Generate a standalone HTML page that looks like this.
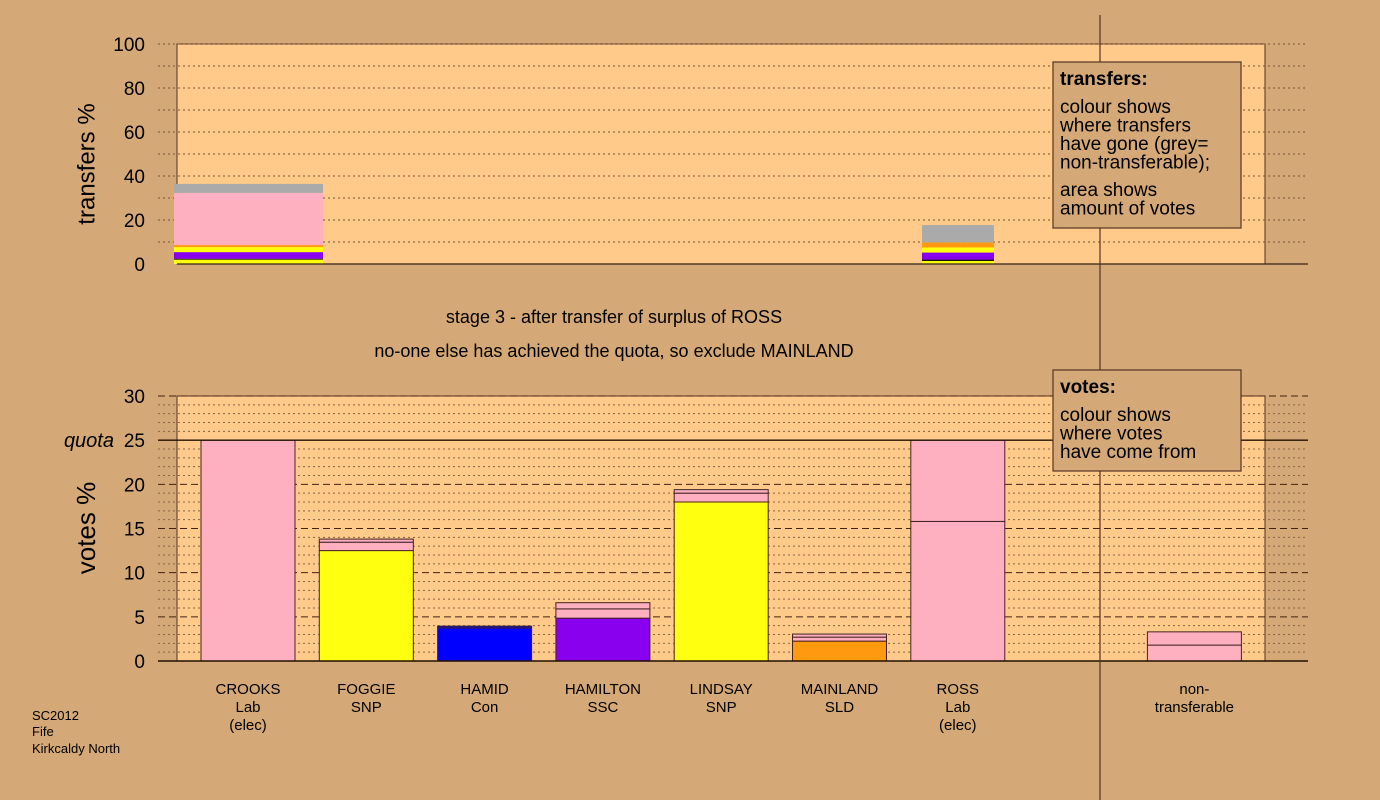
<!DOCTYPE html>
<html><head><meta charset="utf-8"><style>
body{margin:0;background:#D4A877;}
svg{display:block;font-family:"Liberation Sans",Arial,sans-serif;}
</style></head><body>
<svg id="chart" width="1380" height="800" viewBox="0 0 1380 800">
<rect x="0" y="0" width="1380" height="800" fill="#D4A877"/>
<g id="topPanel"></g>
<g id="botPanel"></g>
<line x1="1100" y1="15" x2="1100" y2="800" stroke="#553322" stroke-width="1.2"/>
<text x="88" y="164" font-size="24" text-anchor="middle" transform="rotate(-90 88 164)" dominant-baseline="middle">transfers %</text>
<text x="88" y="528" font-size="26" text-anchor="middle" transform="rotate(-90 88 528)" dominant-baseline="middle">votes %</text>
<text x="614" y="323" font-size="18" text-anchor="middle">stage 3 - after transfer of surplus of ROSS</text>
<text x="614" y="357" font-size="18" text-anchor="middle">no-one else has achieved the quota, so exclude MAINLAND</text>
<g>
<rect x="1053" y="62" width="188" height="166" fill="#D4A877" stroke="#553322" stroke-width="1.2"/>
<text x="1060" y="85" font-size="19" font-weight="bold">transfers:</text>
<text x="1060" y="113" font-size="19">colour shows</text>
<text x="1060" y="131.5" font-size="19">where transfers</text>
<text x="1060" y="150" font-size="19">have gone (grey=</text>
<text x="1060" y="168.5" font-size="19">non-transferable);</text>
<text x="1060" y="196" font-size="19">area shows</text>
<text x="1060" y="214.5" font-size="19">amount of votes</text>
</g>
<g>
<rect x="1053" y="370" width="188" height="101" fill="#D4A877" stroke="#553322" stroke-width="1.2"/>
<text x="1060" y="393" font-size="19" font-weight="bold">votes:</text>
<text x="1060" y="421" font-size="19">colour shows</text>
<text x="1060" y="439.5" font-size="19">where votes</text>
<text x="1060" y="458" font-size="19">have come from</text>
</g>
<g font-size="13">
<text x="32" y="720">SC2012</text><text x="32" y="736">Fife</text><text x="32" y="753">Kirkcaldy North</text>
</g>
</svg>
<script>
const NS="http://www.w3.org/2000/svg";
const topTicks=[0,20,40,60,80,100];
const botTicks=[0,5,10,15,20,25,30];
const candidates=["CROOKS","FOGGIE","HAMID","HAMILTON","LINDSAY","MAINLAND","ROSS","","non-"];
const parties=["Lab","SNP","Con","SSC","SNP","SLD","Lab","","transferable"];
const elected=["(elec)","","","","","","(elec)","",""];
const quota=25;
const voteStacks=[
 [[25,"#FFB0C0"]],
 [[12.5,"#FFFF10"],[0.95,"#FFB0C0"],[0.35,"#FFB0C0"]],
 [[3.75,"#0000FF"],[0.2,"#0000FF"]],
 [[4.85,"#8800EE"],[1.05,"#FFB0C0"],[0.7,"#FFB0C0"]],
 [[18.0,"#FFFF10"],[1.0,"#FFB0C0"],[0.4,"#FFB0C0"]],
 [[2.25,"#FF9910"],[0.45,"#FFB0C0"],[0.35,"#FFB0C0"]],
 [[15.8,"#FFB0C0"],[9.2,"#FFB0C0"]],
 [],
 [[1.8,"#FFB0C0"],[1.5,"#FFB0C0"]]
];
const transferCrooks=[[2.0,"#FFFF10"],[0.4,"#000000"],[3.0,"#8800EE"],[2.3,"#FFFF10"],[0.9,"#FF9910"],[23.7,"#FFB0C0"],[4.1,"#AAAAAA"]];
const transferRoss=[[1.4,"#FFFF10"],[0.6,"#000000"],[3.2,"#8800EE"],[2.3,"#FFFF10"],[2.3,"#FF9910"],[7.9,"#AAAAAA"]];

function el(p,t,a){const e=document.createElementNS(NS,t);for(const k in a)e.setAttribute(k,a[k]);p.appendChild(e);return e;}
const topG=document.getElementById('topPanel'),botG=document.getElementById('botPanel');
const ty=v=>264-v*2.2, by=v=>661-v*(265/30);
const bx=i=>248+i*118.3;

let r=el(topG,'rect',{x:177,y:44,width:1088,height:220,fill:'#FFCA8A',stroke:'#553322','stroke-width':1});


for(let v=10;v<=100;v+=10){let l=el(topG,'line',{x1:158,x2:1308,y1:ty(v),y2:ty(v),stroke:'#775533','stroke-width':1,'stroke-dasharray':'2,3'});

}
for(const v of topTicks){let t=el(topG,'text',{x:145,y:ty(v)+7,'font-size':19,'text-anchor':'end'});t.textContent=v;

}
function tstack(data,x0,x1,name){let acc=0;for(const [v,c] of data){let s=el(topG,'rect',{x:x0,y:ty(acc+v),width:x1-x0,height:v*2.2,fill:c});

acc+=v;}}
tstack(transferCrooks,174,323,'crooks-transfer-segment');
tstack(transferRoss,922,994,'ross-transfer-segment');
el(topG,'line',{x1:177,x2:1308,y1:264,y2:264,stroke:'#332211','stroke-width':1.2});

r=el(botG,'rect',{x:177,y:396,width:1088,height:265,fill:'#FFCA8A',stroke:'#553322','stroke-width':1});


for(let v=1;v<=30;v++){if(v===quota)continue;const dashed=v%5===0;
let l=el(botG,'line',{x1:158,x2:1308,y1:by(v),y2:by(v),stroke:dashed?'#442211':'#886644','stroke-width':1,'stroke-dasharray':dashed?'7,4':'2,3'});

}
for(const v of botTicks){let t=el(botG,'text',{x:145,y:by(v)+7,'font-size':19,'text-anchor':'end'});t.textContent=v;

}
let q=el(botG,'text',{x:114,y:by(quota)+7,'font-size':20,'text-anchor':'end','font-style':'italic'});q.textContent='quota';


voteStacks.forEach((st,i)=>{let acc=0;st.forEach(([v,c])=>{let s=el(botG,'rect',{x:bx(i)-47,y:by(acc+v),width:94,height:v*265/30,fill:c,stroke:'#442222','stroke-width':1});

acc+=v;});});
let ql=el(botG,'line',{x1:158,x2:1308,y1:by(quota),y2:by(quota),stroke:'#221100','stroke-width':1.4});


el(botG,'line',{x1:158,x2:1308,y1:661,y2:661,stroke:'#221100','stroke-width':1.5});
candidates.forEach((c,i)=>{if(!c)return;[c,parties[i],elected[i]].forEach((s,k)=>{if(!s)return;
let t=el(botG,'text',{x:bx(i),y:694+k*18,'font-size':15,'text-anchor':'middle'});t.textContent=s;

});});
</script>
</body></html>
